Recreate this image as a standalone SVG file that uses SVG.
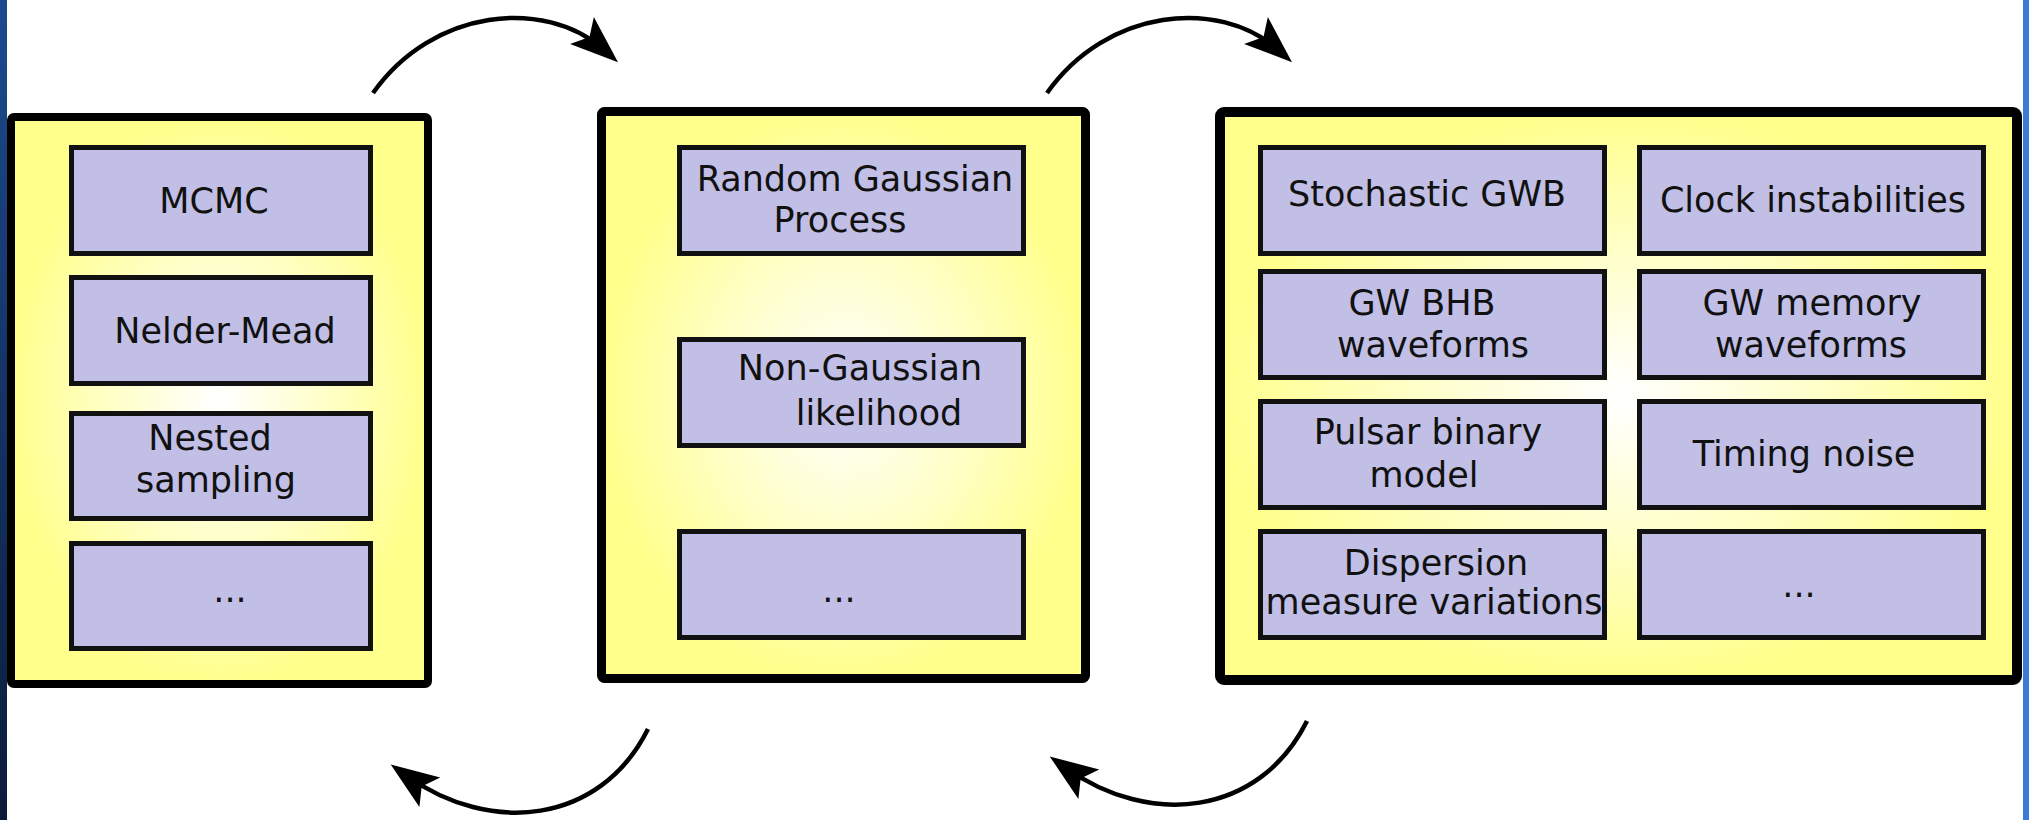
<svg xmlns="http://www.w3.org/2000/svg" width="2029" height="820" viewBox="0 0 2029 820">
  <defs>
    <radialGradient id="panelFill" cx="50%" cy="50%" r="50%">
      <stop offset="0" stop-color="#ffffff"/>
      <stop offset="0.55" stop-color="#ffffc4"/>
      <stop offset="1" stop-color="#ffff8c"/>
    </radialGradient>
    <linearGradient id="edgeLeft" x1="0" y1="0" x2="0" y2="1">
      <stop offset="0" stop-color="#1d4a8e"/>
      <stop offset="1" stop-color="#0b1b3a"/>
    </linearGradient>
    <marker id="head" markerUnits="userSpaceOnUse" viewBox="-50 -20 52 40" refX="-20" refY="0" markerWidth="52" markerHeight="40" orient="auto">
      <path d="M 0 0 L -48 -18 L -38 0 L -48 18 Z" fill="#000"/>
    </marker>
    <style>
      .panel { fill: url(#panelFill); stroke: #000; stroke-linejoin: round; }
      .box { fill: #c1bfe6; stroke: #111; stroke-width: 5; }
      .lbl { font-family: "DejaVu Sans", sans-serif; font-size: 35px; fill: #111; text-anchor: middle; }
      .arc { fill: none; stroke: #000; stroke-width: 4.5; marker-end: url(#head); }
    </style>
  </defs>

  <rect width="2029" height="820" fill="#ffffff"/>
  <rect x="0" y="0" width="7" height="820" fill="url(#edgeLeft)"/>
  <rect x="2023" y="0" width="6" height="820" fill="#3b7ad8"/>

  <!-- optimisers / samplers -->
  <g id="samplers">
    <rect class="panel" x="11" y="117" width="417" height="567" rx="3" stroke-width="8"/>
    <g id="mcmc">
      <rect class="box" x="71.5" y="147.5" width="299" height="106"/>
      <text class="lbl" x="214" y="213">MCMC</text>
    </g>
    <g id="nelder-mead">
      <rect class="box" x="71.5" y="277.5" width="299" height="106"/>
      <text class="lbl" x="225" y="343">Nelder-Mead</text>
    </g>
    <g id="nested-sampling">
      <rect class="box" x="71.5" y="413.5" width="299" height="105"/>
      <text class="lbl" x="210" y="450">Nested</text>
      <text class="lbl" x="216" y="492">sampling</text>
    </g>
    <g id="samplers-more">
      <rect class="box" x="71.5" y="543.5" width="299" height="105"/>
      <text class="lbl" x="230" y="602">...</text>
    </g>
  </g>

  <!-- likelihood -->
  <g id="likelihood">
    <rect class="panel" x="601.5" y="111.5" width="484" height="567" rx="3" stroke-width="9"/>
    <g id="gaussian-process">
      <rect class="box" x="679.5" y="147.5" width="344" height="106"/>
      <text class="lbl" x="855" y="191">Random Gaussian</text>
      <text class="lbl" x="840" y="232">Process</text>
    </g>
    <g id="non-gaussian">
      <rect class="box" x="679.5" y="339.5" width="344" height="106"/>
      <text class="lbl" x="860" y="380">Non-Gaussian</text>
      <text class="lbl" x="879" y="425">likelihood</text>
    </g>
    <g id="likelihood-more">
      <rect class="box" x="679.5" y="531.5" width="344" height="106"/>
      <text class="lbl" x="839" y="602">...</text>
    </g>
  </g>

  <!-- signal and noise models -->
  <g id="models">
    <rect class="panel" x="1220" y="112" width="797" height="568" rx="4" stroke-width="10"/>
    <g id="stochastic-gwb">
      <rect class="box" x="1260.5" y="147.5" width="344" height="106"/>
      <text class="lbl" x="1427" y="206">Stochastic GWB</text>
    </g>
    <g id="clock">
      <rect class="box" x="1639.5" y="147.5" width="344" height="106"/>
      <text class="lbl" x="1813" y="212">Clock instabilities</text>
    </g>
    <g id="gw-bhb">
      <rect class="box" x="1260.5" y="271.5" width="344" height="106"/>
      <text class="lbl" x="1422" y="315">GW BHB</text>
      <text class="lbl" x="1433" y="357">waveforms</text>
    </g>
    <g id="gw-memory">
      <rect class="box" x="1639.5" y="271.5" width="344" height="106"/>
      <text class="lbl" x="1812" y="315">GW memory</text>
      <text class="lbl" x="1811" y="357">waveforms</text>
    </g>
    <g id="binary">
      <rect class="box" x="1260.5" y="401.5" width="344" height="106"/>
      <text class="lbl" x="1428" y="444">Pulsar binary</text>
      <text class="lbl" x="1424" y="487">model</text>
    </g>
    <g id="timing-noise">
      <rect class="box" x="1639.5" y="401.5" width="344" height="106"/>
      <text class="lbl" x="1804" y="466">Timing noise</text>
    </g>
    <g id="dm">
      <rect class="box" x="1260.5" y="531.5" width="344" height="106"/>
      <text class="lbl" x="1436" y="575">Dispersion</text>
      <text class="lbl" x="1434" y="614">measure variations</text>
    </g>
    <g id="models-more">
      <rect class="box" x="1639.5" y="531.5" width="344" height="106"/>
      <text class="lbl" x="1799" y="597">...</text>
    </g>
  </g>

  <!-- cycle arrows -->
  <g id="connectors">
    <path class="arc" d="M 373 93 C 433 8, 545 -2, 603 49"/>
    <path class="arc" d="M 1047 93 C 1107 8, 1219 -2, 1277 49"/>
    <path class="arc" d="M 648 729 C 600 825, 490 835, 407 776"/>
    <path class="arc" d="M 1307 721 C 1259 817, 1149 827, 1066 768"/>
  </g>
</svg>
